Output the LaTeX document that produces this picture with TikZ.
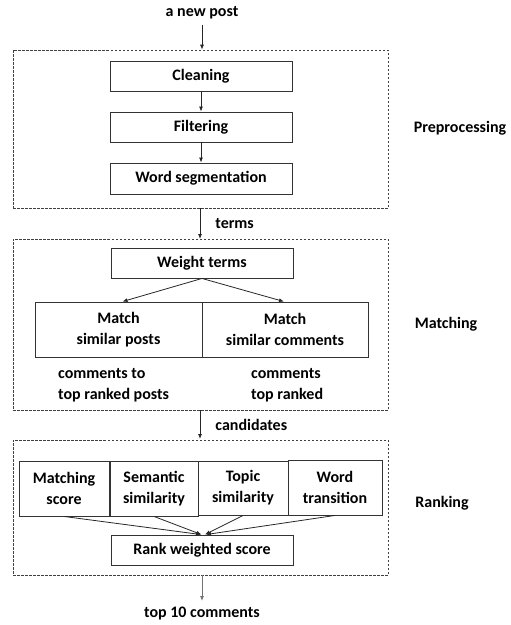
\documentclass[tikz,border=0pt]{standalone}
\usepackage{fontspec}
\setmainfont{Carlito}
\usetikzlibrary{arrows.meta}

\newcommand{\labfont}{\fontsize{16}{21}\selectfont\bfseries}

\tikzset{
  stagebox/.style = {draw = black!75, line width = .6pt,
    dash pattern = on 2.5pt off 1.5pt, inner sep = 0pt},
  procbox/.style = {draw = black!80, line width = .9pt, inner sep = 0pt,
    align = center, font = \labfont},
  plain/.style = {align = left, font = \labfont, inner sep = 0pt},
  flow/.style = {-{Latex[length = 5pt, width = 4pt]}, line width = .8pt,
    draw = black!85}
}

\begin{document}
\begin{tikzpicture}[x = 1pt, y = -1pt]
  \useasboundingbox (0, 0) rectangle (511, 625);

  % stages
  \node[stagebox, minimum width = 375pt, minimum height = 158pt]
  (prep) at (200.5, 129) {};
  \node[stagebox, minimum width = 375pt, minimum height = 171pt]
  (match) at (200.5, 324.5) {};
  \node[stagebox, minimum width = 375pt, minimum height = 135pt]
  (rank) at (200.5, 507.5) {};

  \node[plain] (prepname) at (460, 128) {Preprocessing};
  \node[plain] (matchname) at (446, 324) {Matching};
  \node[plain] (rankname) at (442, 503) {Ranking};

  % preprocessing
  \node[plain] (post) at (202, 13) {a new post};
  \node[procbox, minimum width = 182pt, minimum height = 30pt]
  (clean) at (201, 76) {Cleaning};
  \node[procbox, minimum width = 182pt, minimum height = 30pt]
  (filter) at (201, 127) {Filtering};
  \node[procbox, minimum width = 182pt, minimum height = 31pt]
  (seg) at (201, 178.5) {Word segmentation};

  \draw[flow] (post.south) ++(0, 5) -- (prep.north -| post.south);
  \draw[flow] (clean) -- (filter);
  \draw[flow] (filter) -- (seg);

  % matching
  \draw[flow] (200, 208) -- node[plain, right = 15pt] (terms) {terms}
  (200, 239);
  \node[procbox, minimum width = 182pt, minimum height = 30pt]
  (weight) at (202, 263) {Weight terms};
  \node[procbox, minimum width = 167pt, minimum height = 55pt]
  (simpost) at (118.5, 329.5) {Match\\similar posts};
  \node[procbox, minimum width = 166pt, minimum height = 55pt]
  (simcom) at (285, 329.5) {Match\\similar comments};
  \draw[flow] (weight.south) -- ([xshift = 4pt]simpost.north);
  \draw[flow] (weight.south) -- ([xshift = -1pt]simcom.north);

  \node[plain, anchor = west] (postcand) at (58, 385.5)
  {comments to\\top ranked posts};
  \node[plain, anchor = west] (comcand) at (251, 385.5)
  {comments\\top ranked};

  % ranking
  \draw[flow] (200, 410) -- node[plain, right = 15pt] (cand) {candidates}
  (200, 439);
  \node[procbox, minimum width = 90pt, minimum height = 55pt]
  (mscore) at (64, 488.5) {Matching\\score};
  \node[procbox, minimum width = 88pt, minimum height = 55pt]
  (semsim) at (154, 488.5) {Semantic\\similarity};
  \node[procbox, minimum width = 90pt, minimum height = 54pt]
  (topsim) at (243, 488) {Topic\\similarity};
  \node[procbox, minimum width = 94pt, minimum height = 55pt]
  (wtrans) at (335, 487.5) {Word\\transition};
  \node[procbox, minimum width = 182pt, minimum height = 30pt]
  (rws) at (202, 550) {Rank weighted score};

  \draw[flow] (mscore.south) -- ([xshift = -1pt]rws.north);
  \draw[flow] (semsim.south) -- ([xshift = -0.5pt]rws.north);
  \draw[flow] (topsim.south) -- ([xshift = 3pt]rws.north);
  \draw[flow] (wtrans.south) -- ([xshift = 4pt]rws.north);

  \node[plain] (top) at (202, 614) {top 10 comments};
  \draw[flow, draw = black!55] (rank.south -| top.north) -- (202, 601);
\end{tikzpicture}
\end{document}
